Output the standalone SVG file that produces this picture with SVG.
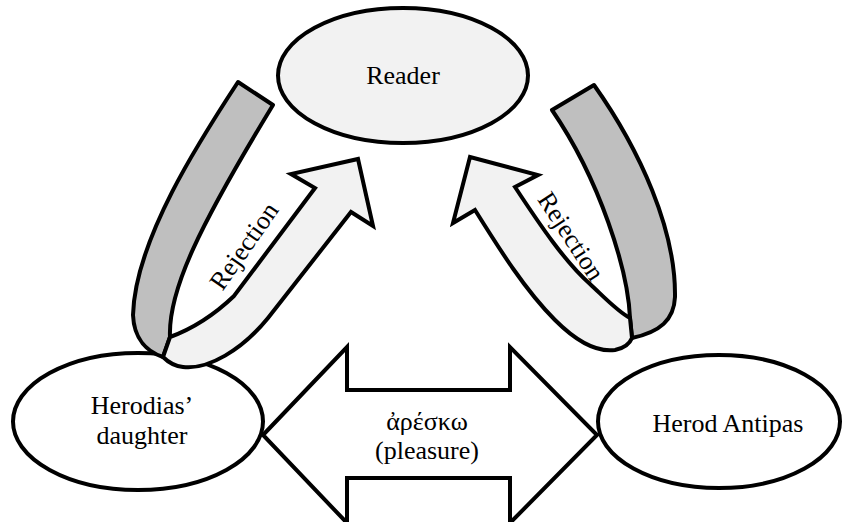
<svg xmlns="http://www.w3.org/2000/svg" width="842" height="522" viewBox="0 0 842 522">
  <style>
    .node { stroke: #000; stroke-width: 4; }
    .label { font-family: "Liberation Serif", "DejaVu Serif", serif; font-size: 26px; fill: #000; text-anchor: middle; }
    .back { fill: #bfbfbf; stroke: #000; stroke-width: 4; stroke-linejoin: round; }
    .front { fill: #f2f2f2; stroke: #000; stroke-width: 4; stroke-linejoin: miter; stroke-miterlimit: 10; }
    .block { fill: #fff; stroke: #000; stroke-width: 4; stroke-linejoin: miter; }
  </style>

  <rect width="842" height="522" fill="#fff"/>

  <!-- nodes -->
  <g id="reader">
    <ellipse class="node" cx="403" cy="75.5" rx="125" ry="67.5" fill="#f2f2f2"/>
    <text class="label" x="403" y="84">Reader</text>
  </g>
  <g id="herodias-daughter">
    <ellipse class="node" cx="138" cy="421.5" rx="125" ry="68.5" fill="#fff"/>
    <text class="label" x="142" y="414">Herodias’</text>
    <text class="label" x="142" y="444">daughter</text>
  </g>
  <g id="herod-antipas">
    <ellipse class="node" cx="719" cy="421.5" rx="121" ry="66.5" fill="#fff"/>
    <text class="label" x="728" y="432">Herod Antipas</text>
  </g>

  <!-- connectors -->
  <g id="connectors">
    <!-- left curved arrow: daughter rejects toward reader -->
    <g id="rejection-left">
      <path class="back" d="M170,337 C168,290 200,225 273,105 L238,82 C200,140 135,240 133,315 C134,340 148,352 163,357 Z"/>
      <path class="front" d="M170,337 C192,329 212,317 234,296 L315,188 L291,174 L358,159 L373,226 L351,212 L268,318 C242,350 208,370 183,367 C174,366 168,362 163,357 Z"/>
      <text class="label" x="251" y="251" transform="rotate(-55 251 251)">Rejection</text>
    </g>
    <!-- right curved arrow: Herod rejects toward reader -->
    <g id="rejection-right">
      <path class="back" d="M630,318 C628,270 600,180 552,110 L594,85 C640,150 676,230 675,297 C674,320 660,332 632,338 Z"/>
      <path class="front" d="M630,318 C618,312 605,298 590,284 C565,262 540,225 515,187 L538,175 L470,157 L453,223 L475,210 C500,250 525,290 555,320 C580,345 600,352 615,350 C625,348 630,343 632,338 Z"/>
      <text class="label" x="564" y="241" transform="rotate(57 564 241)">Rejection</text>
    </g>
    <!-- double-headed arrow between daughter and Herod -->
    <g id="pleasure">
      <path class="block" d="M263,435 L347,347 L347,390 L510,390 L510,347 L597,435 L510,523 L510,478 L347,478 L347,523 Z"/>
      <text class="label" x="427" y="430">ἀρέσκω</text>
      <text class="label" x="427" y="459">(pleasure)</text>
    </g>
  </g>
</svg>
